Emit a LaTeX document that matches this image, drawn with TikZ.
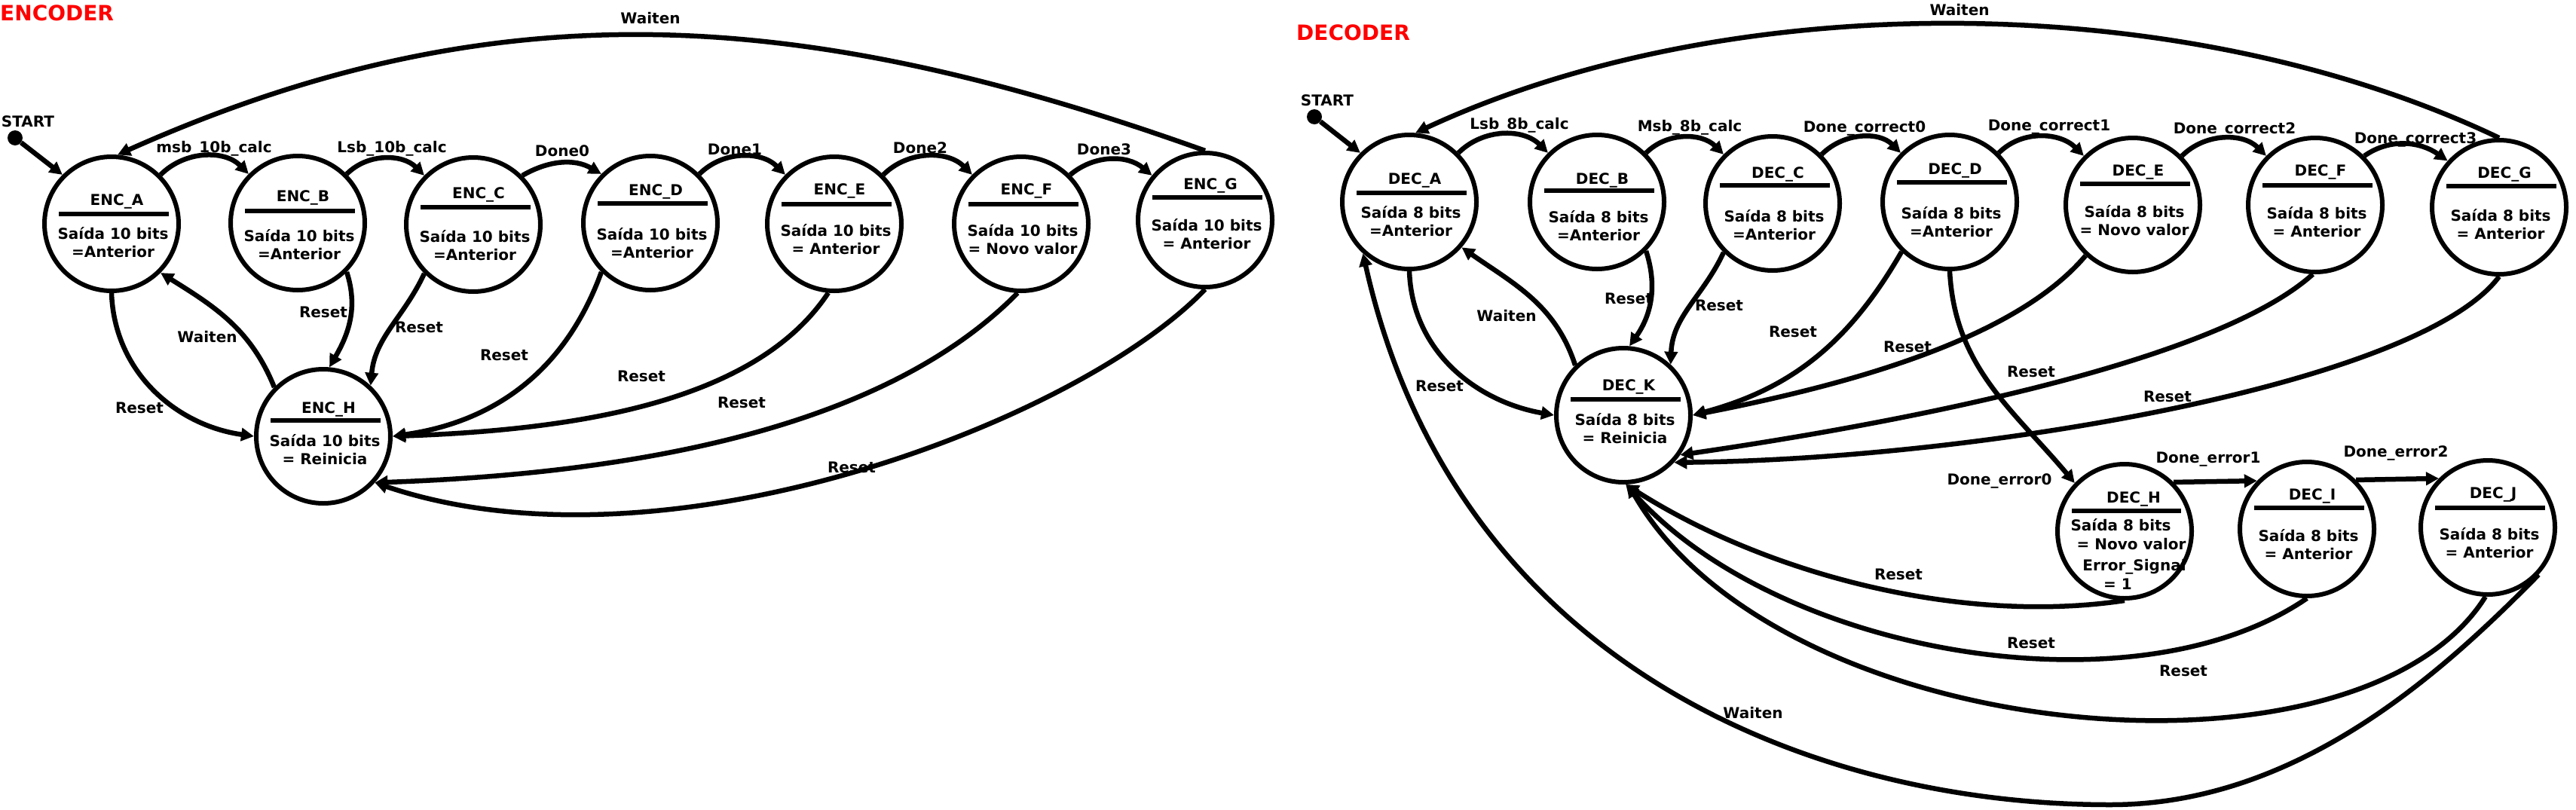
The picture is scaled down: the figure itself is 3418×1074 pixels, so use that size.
\documentclass[tikz,border=0pt]{standalone}
\usepackage{fontspec}
\setmainfont{DejaVu Sans}
\usetikzlibrary{arrows.meta,calc}
\tikzset{
  stc/.style={circle,draw,line width=6pt,minimum size=178pt,inner sep=0pt},
  tx/.style={font=\fontsize{20}{24}\selectfont\bfseries,inner sep=0pt,anchor=base,yshift=-7pt},
  ed/.style={line width=6.5pt,-{Triangle[length=17pt,width=17pt]}},
  barline/.style={line width=6pt},
  ttl/.style={font=\fontsize{28}{34}\selectfont\bfseries,text=red,inner sep=0pt,anchor=base west},
  dotn/.style={circle,fill,inner sep=0pt,minimum size=20pt},
}
\newcommand\mkstate[9]{%
  \node[stc] (#1) at (#2,#3) {};
  \node[tx] at ($(#1)+(7,#7)$) {#4};
  \draw[barline] ($(#1)+(-70,#8)$) -- ($(#1)+(76,#8)$);
  \node[tx] at ($(#1)+(2,#9)$) {#5};
  \node[tx] at ($(#1)+(2,#9-24)$) {#6};
}
\begin{document}
\begin{tikzpicture}[x=1pt,y=1pt]
\useasboundingbox (0,0) rectangle (3418,-1074);
\fill[white] (0,0) rectangle (3418,-1074);
\node[ttl] (encttl) at (0,-27) {ENCODER};
\node[ttl] (decttl) at (1720,-53) {DECODER};

% ---------------- ENCODER states
\mkstate{ENCA}{148}{-297}{ENC\_A}{Saída 10 bits}{=Anterior}{32}{13}{-13}
\mkstate{ENCB}{395}{-296}{ENC\_B}{Saída 10 bits}{=Anterior}{36}{16}{-17}
\mkstate{ENCC}{628}{-298}{ENC\_C}{Saída 10 bits}{=Anterior}{42}{23}{-16}
\mkstate{ENCD}{863}{-296}{ENC\_D}{Saída 10 bits}{=Anterior}{44}{26}{-15}
\mkstate{ENCE}{1107}{-297}{ENC\_E}{Saída 10 bits}{= Anterior}{46}{26}{-9}
\mkstate{ENCF}{1355}{-297}{ENC\_F}{Saída 10 bits}{= Novo valor}{46}{26}{-9}
\mkstate{ENCG}{1599}{-292}{ENC\_G}{Saída 10 bits}{= Anterior}{48}{30}{-7}
\mkstate{ENCH}{429}{-579}{ENC\_H}{Saída 10 bits}{= Reinicia}{38}{21}{-6}

\node[dotn] (st1) at (20,-183) {};
\node[tx] (st1l) at (37,-161) {START};
\draw[ed] (st1) -- (ENCA.135);

\draw[ed] (ENCA.45) to[out=45,in=135] (ENCB.135);
\draw[ed] (ENCB.45) to[out=45,in=135] (ENCC.135);
\draw[ed] (ENCC.45) to[out=30,in=150] (ENCD.135);
\draw[ed] (ENCD.45) to[out=45,in=135] (ENCE.135);
\draw[ed] (ENCE.45) to[out=45,in=135] (ENCF.135);
\draw[ed] (ENCF.45) to[out=40,in=140] (ENCG.140);
\draw[ed] (ENCG.north) .. controls (1073,-12) and (665,22) .. (ENCA.85);
\draw[ed] (ENCH.135) to[out=112,in=-32] (ENCA.-45);
\draw[ed] (ENCA.-90) to[out=-88,in=172] (ENCH.west);
\draw[ed] (ENCB.-45) to[out=-72,in=60] (ENCH.85);
\draw[ed] (ENCC.-135) to[out=-115,in=85] (ENCH.47);
\draw[ed] (ENCD.-135) to[out=-110,in=8] (ENCH.east);
\draw[ed] (ENCE.-95) .. controls (1006,-529) and (781,-570) .. (ENCH.east);
\draw[ed] (ENCF.-93) .. controls (1177,-565) and (855,-628) .. (ENCH.-42);
\draw[ed] (ENCG.-90) .. controls (1430,-560) and (880,-770) .. (ENCH.-42);

\node[tx] at (284,-195) {msb\_10b\_calc};
\node[tx] at (520,-195) {Lsb\_10b\_calc};
\node[tx] at (746,-200) {Done0};
\node[tx] at (975,-198) {Done1};
\node[tx] at (1221,-196) {Done2};
\node[tx] at (1465,-198) {Done3};
\node[tx] at (863,-24) {Waiten};
\node[tx] at (275,-447) {Waiten};
\node[tx] at (185,-541) {Reset};
\node[tx] at (429,-414) {Reset};
\node[tx] at (556,-434) {Reset};
\node[tx] at (669,-471) {Reset};
\node[tx] at (851,-499) {Reset};
\node[tx] at (984,-534) {Reset};
\node[tx] at (1130,-620) {Reset};

% ---------------- DECODER states
\mkstate{DECA}{1870}{-268}{DEC\_A}{Saída 8 bits}{=Anterior}{31}{12}{-14}
\mkstate{DECB}{2119}{-268}{DEC\_B}{Saída 8 bits}{=Anterior}{31}{15}{-20}
\mkstate{DECC}{2352}{-270}{DEC\_C}{Saída 8 bits}{=Anterior}{41}{24}{-17}
\mkstate{DECD}{2587}{-268}{DEC\_D}{Saída 8 bits}{=Anterior}{44}{26}{-15}
\mkstate{DECE}{2830}{-272}{DEC\_E}{Saída 8 bits}{= Novo valor}{46}{28}{-9}
\mkstate{DECF}{3072}{-272}{DEC\_F}{Saída 8 bits}{= Anterior}{46}{26}{-11}
\mkstate{DECG}{3316}{-275}{DEC\_G}{Saída 8 bits}{= Anterior}{46}{28}{-11}
\mkstate{DECK}{2154}{-551}{DEC\_K}{Saída 8 bits}{= Reinicia}{40}{21}{-6}
\mkstate{DECI}{3061}{-702}{DEC\_I}{Saída 8 bits}{= Anterior}{46}{28}{-9}
\mkstate{DECJ}{3301}{-700}{DEC\_J}{Saída 8 bits}{= Anterior}{46}{26}{-9}
\node[stc] (DECH) at (2819,-705) {};
\node[tx] at (2831,-660) {DEC\_H};
\draw[barline] (2749,-678) -- (2894,-678);
\node[tx] at (2814,-697) {Saída 8 bits};
\node[tx] at (2828,-722) {= Novo valor};
\node[tx] at (2832,-750) {Error\_Signal};
\node[tx] at (2810,-775) {= 1};

\node[dotn] (st2) at (1744,-155) {};
\node[tx] (st2l) at (1761,-133) {START};
\draw[ed] (st2) -- (DECA.135);

\draw[ed] (DECA.45) to[out=45,in=135] (DECB.135);
\draw[ed] (DECB.45) to[out=45,in=135] (DECC.135);
\draw[ed] (DECC.45) to[out=45,in=135] (DECD.135);
\draw[ed] (DECD.45) to[out=45,in=135] (DECE.135);
\draw[ed] (DECE.45) to[out=45,in=135] (DECF.135);
\draw[ed] (DECF.45) to[out=35,in=145] (DECG.138);
\draw[ed] (DECG.north) .. controls (2902,15) and (2301,20) .. (DECA.85);
\draw[ed] (DECK.134) to[out=108,in=-35] (DECA.-41);
\draw[ed] (DECA.-90) to[out=-88,in=170] (DECK.west);
\draw[ed] (DECB.-45) to[out=-72,in=55] (DECK.85);
\draw[ed] (DECC.-135) to[out=-115,in=88] (DECK.47);
\draw[ed] (DECD.-134) to[out=-120,in=15] (DECK.east);
\draw[ed] (DECE.-133) .. controls (2673,-451) and (2451,-511) .. (DECK.east);
\draw[ed] (DECF.-92) .. controls (2940,-480) and (2531,-560) .. (DECK.-35);
\draw[ed] (DECG.-90) .. controls (3210,-510) and (2623,-610) .. (DECK.-43);
\draw[ed] (DECD.-90) to[out=-87,in=130] (DECH.136);
\draw[ed] (DECH.45) -- (DECI.136);
\draw[ed] (DECI.45) -- (DECJ.135);
\draw[ed] (DECH.-90) .. controls (2599,-830) and (2340,-760) .. (DECK.-88);
\draw[ed] (DECI.-90) .. controls (2834,-950) and (2360,-870) .. (DECK.-88);
\draw[ed] (DECJ.-92) .. controls (3130,-1060) and (2360,-990) .. (DECK.-86);
\draw[ed] (DECJ.-43) .. controls (3242,-891) and (3050,-1068) .. (2800,-1068)
   .. controls (2400,-1068) and (1930,-880) .. (DECA.-132);

\node[tx] at (2016,-164) {Lsb\_8b\_calc};
\node[tx] at (2242,-167) {Msb\_8b\_calc};
\node[tx] at (2474,-168) {Done\_correct0};
\node[tx] at (2719,-166) {Done\_correct1};
\node[tx] at (2965,-170) {Done\_correct2};
\node[tx] at (3205,-183) {Done\_correct3};
\node[tx] at (2600,-13) {Waiten};
\node[tx] at (1999,-419) {Waiten};
\node[tx] at (1910,-512) {Reset};
\node[tx] at (2161,-396) {Reset};
\node[tx] at (2281,-405) {Reset};
\node[tx] at (2379,-440) {Reset};
\node[tx] at (2531,-460) {Reset};
\node[tx] at (2695,-493) {Reset};
\node[tx] at (2876,-526) {Reset};
\node[tx] at (2653,-636) {Done\_error0};
\node[tx] at (2930,-607) {Done\_error1};
\node[tx] at (3179,-599) {Done\_error2};
\node[tx] at (2519,-762) {Reset};
\node[tx] at (2695,-853) {Reset};
\node[tx] at (2897,-890) {Reset};
\node[tx] at (2326,-946) {Waiten};
\end{tikzpicture}
\end{document}
